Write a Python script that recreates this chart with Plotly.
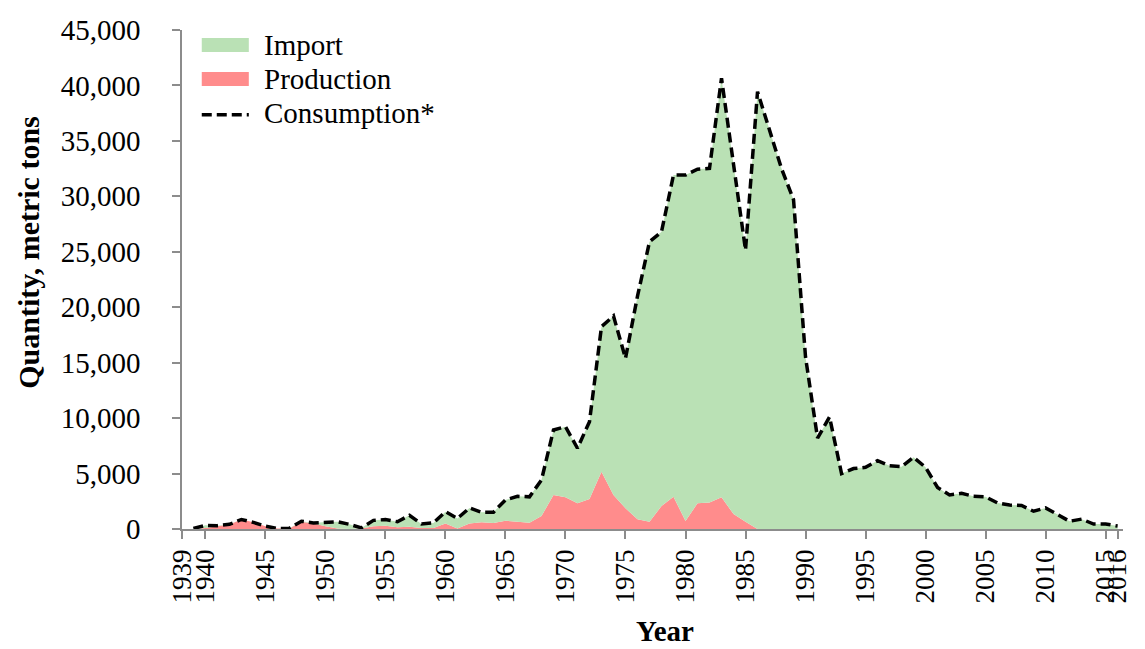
import plotly.graph_objects as go

years = list(range(1939, 2017))

consumption = [
    50, 330, 300, 420, 860, 600, 250, 50, 60, 700,
    550, 620, 650, 420, 100, 780, 850, 660, 1230, 450,
    550, 1560, 950, 1900, 1500, 1520, 2620, 2950, 2900, 4420,
    8930, 9230, 7280, 9680, 18250, 19210, 15390, 21000, 25900, 26800,
    31920, 31920, 32440, 32530, 40650, 32900, 25160, 39440, 36000, 32500,
    29700, 15500, 8200, 10100, 5000, 5450, 5560, 6160, 5700, 5620,
    6470, 5560, 3750, 3070, 3220, 2950, 2900, 2350, 2160, 2120,
    1600, 1900, 1300, 700, 890, 450, 450, 270,
]

production = [
    0, 100, 250, 400, 850, 600, 250, 50, 50, 650,
    500, 250, 50, 0, 50, 250, 300, 150, 200, 100,
    100, 500, 50, 500, 600, 550, 750, 650, 570, 1170,
    3070, 2860, 2320, 2700, 5170, 3070, 1870, 880, 660, 2070,
    2910, 720, 2320, 2400, 2860, 1350, 660, 0, 0, 0,
    0, 0, 0, 0, 0, 0, 0, 0, 0, 0,
    0, 0, 0, 0, 0, 0, 0, 0, 0, 0,
    0, 0, 0, 0, 0, 0, 0, 0,
]

imports = [max(c - p, 0) for c, p in zip(consumption, production)]

series_names = ["Import", "Production", "Consumption*"]

tick_positions = [1938.05, 1940, 1945, 1950, 1955, 1960, 1965, 1970, 1975, 1980,
                  1985, 1990, 1995, 2000, 2005, 2010, 2015, 2016]
tick_labels = ["1939", "1940", "1945", "1950", "1955", "1960", "1965", "1970", "1975",
               "1980", "1985", "1990", "1995", "2000", "2005", "2010", "2015", "2016"]

GREEN = "#BAE1B5"
RED = "#FF8C8C"
AXIS = "#8C8C8C"
FONT = "Liberation Serif, Times New Roman, serif"
DASH = "10px,5px"

fig = go.Figure()
fig.add_trace(go.Scatter(
    x=years, y=production, name=series_names[1], stackgroup="s",
    mode="none", fillcolor=RED,
))
fig.add_trace(go.Scatter(
    x=years, y=imports, name=series_names[0], stackgroup="s",
    mode="none", fillcolor=GREEN,
))
fig.add_trace(go.Scatter(
    x=years, y=consumption, name=series_names[2], mode="lines",
    line=dict(color="black", width=3.5, dash=DASH),
))

# Legend drawn in the top-left corner of the plot area (paper coordinates)
sw_x0, sw_x1, txt_x = 0.021, 0.071, 0.085
rows_y = [0.970, 0.902, 0.834]
half_h = 0.014
shapes = [
    dict(type="rect", xref="paper", yref="paper", x0=sw_x0, x1=sw_x1,
         y0=rows_y[0] - half_h, y1=rows_y[0] + half_h, fillcolor=GREEN, line=dict(width=0)),
    dict(type="rect", xref="paper", yref="paper", x0=sw_x0, x1=sw_x1,
         y0=rows_y[1] - half_h, y1=rows_y[1] + half_h, fillcolor=RED, line=dict(width=0)),
    dict(type="line", xref="paper", yref="paper", x0=sw_x0, x1=sw_x1,
         y0=rows_y[2] - 0.004, y1=rows_y[2] - 0.004, line=dict(color="black", width=3.5, dash=DASH)),
]
annotations = [
    dict(text=name, xref="paper", yref="paper", x=txt_x, y=yy, xanchor="left",
         yanchor="middle", showarrow=False, font=dict(size=29))
    for name, yy in zip(series_names, rows_y)
]
# Axis titles
annotations += [
    dict(text="<b>Quantity, metric tons</b>", xref="paper", yref="paper",
         x=-0.164, y=0.553, xanchor="center", yanchor="middle", textangle=-90,
         showarrow=False, font=dict(size=30)),
    dict(text="<b>Year</b>", xref="paper", yref="paper",
         x=0.513, y=-0.205, xanchor="center", yanchor="middle",
         showarrow=False, font=dict(size=29), borderpad=0),
]

# The page body has an 8px margin, so the figure is sized to fit the window.
fig.update_layout(
    width=1137, height=641,
    margin=dict(l=174, r=22, t=22, b=120),
    paper_bgcolor="white", plot_bgcolor="white",
    font=dict(family=FONT, size=28, color="black"),
    showlegend=False,
    shapes=shapes, annotations=annotations,
    xaxis=dict(
        range=[1938.05, 2016.45], tickmode="array",
        tickvals=tick_positions, ticktext=tick_labels, tickangle=-90,
        showline=True, linecolor=AXIS, linewidth=1.5,
        ticks="outside", ticklen=8, tickcolor=AXIS, tickwidth=1.5,
        showgrid=False, zeroline=False, automargin=False,
        tickfont=dict(size=27),
    ),
    yaxis=dict(
        range=[0, 45000], dtick=5000, tickformat=",",
        showline=True, linecolor=AXIS, linewidth=1.5,
        ticks="outside", ticklen=8, tickcolor=AXIS, tickwidth=1.5,
        showgrid=False, zeroline=False, automargin=False,
        tickfont=dict(size=29), ticklabelstandoff=26,
    ),
)

fig.write_html("out.html")
